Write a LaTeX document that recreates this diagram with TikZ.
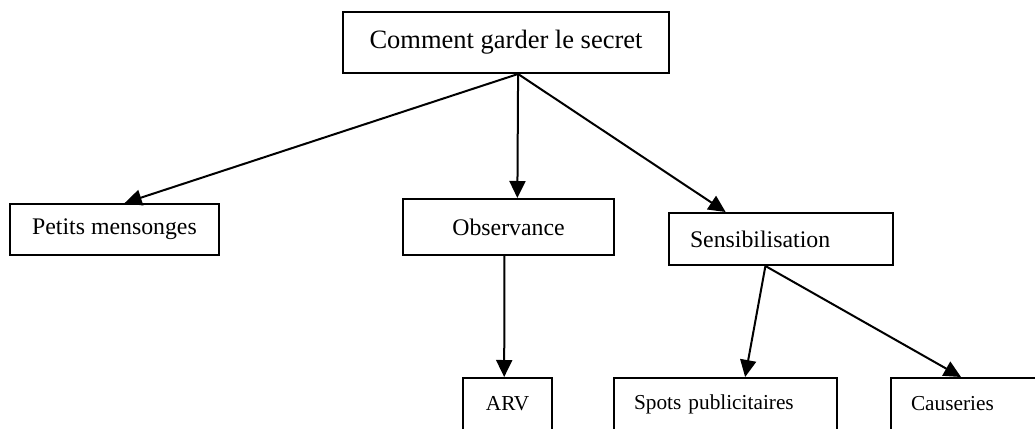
\documentclass[tikz,border=0pt]{standalone}
\usepackage{fontspec}
\setmainfont{Liberation Serif}
\usetikzlibrary{arrows.meta}

\tikzset{
  box/.style={draw, rectangle, line width=2pt, inner sep=0pt, anchor=north west},
  leftbox/.style={box, inner xsep=20pt, align=left},
  link/.style={line width=2pt, -{Triangle[length=17pt,width=16pt]}},
}

\begin{document}
\begin{tikzpicture}[x=1pt,y=1pt,yscale=-1,xscale=1]
			%set diagram to the page size and cut the boxes at the lower edge
			\useasboundingbox (0,0) rectangle (1035,428);
			\clip (0,0) rectangle (1035,428);
			
			% Text Node
			\node [box, minimum width=326, minimum height=61, font=\fontsize{26.5}{30}\selectfont] (secret) at (342,11) {Comment garder le secret};
			% Text Node
			\node [box, minimum width=209, minimum height=51, font=\fontsize{23.8}{27}\selectfont] (petits) at (9,203) {Petits mensonges};
			% Text Node
			\node [box, minimum width=211, minimum height=56, font=\fontsize{23.8}{27}\selectfont] (obs) at (402,198) {Observance};
			% Text Node
			\node [leftbox, inner xsep=21pt, text width=182, minimum height=52, font=\fontsize{23.8}{27}\selectfont] (sens) at (668,212) {Sensibilisation};
			% Text Node
			\node [box, minimum width=89, minimum height=52, font=\fontsize{21.3}{24}\selectfont] (arv) at (462,377) {ARV};
			% Text Node
			\node [leftbox, text width=183, minimum height=52, font=\fontsize{21.3}{24}\selectfont] (spots) at (613,377) {Spots publicitaires};
			% Text Node
			\node [leftbox, text width=160, minimum height=52, font=\fontsize{21.3}{24}\selectfont] (caus) at (890,377) {Causeries};
			
			%Straight Lines
			\draw [link] (secret.291.5) -- (petits.69.6);
			%Straight Lines
			\draw [link] (secret.291.5) -- (obs.73.1);
			%Straight Lines
			\draw [link] (secret.291.5) -- (sens.154.7);
			%Straight Lines
			\draw [link] (obs.262.9) -- (arv.97.7);
			%Straight Lines
			\draw [link] (sens.240) -- (spots.54.6);
			%Straight Lines
			\draw [link] (sens.240) -- ([xshift=-30pt]caus.north);
			
\end{tikzpicture}
\end{document}
